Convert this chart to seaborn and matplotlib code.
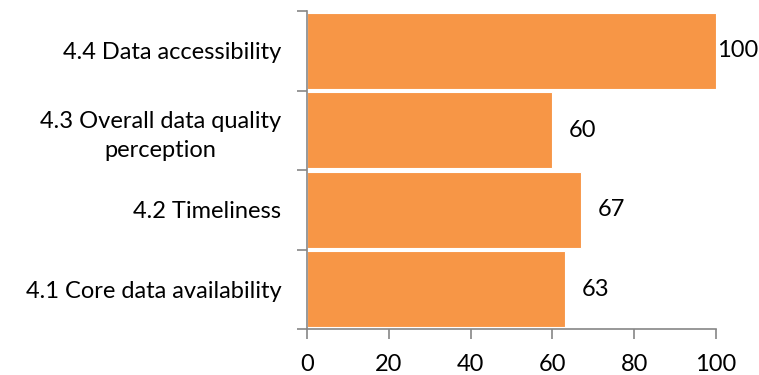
import matplotlib
matplotlib.use("Agg")
import matplotlib.pyplot as plt
import seaborn as sns
import pandas as pd

categories = ["4.4 Data accessibility", "4.3 Overall data quality\nperception",
              "4.2 Timeliness", "4.1 Core data availability"]
values = [100, 60, 67, 63]
label_offsets = [1, 12, 12, 12]  # points, style only
x_ticks = [0, 20, 40, 60, 80, 100]

sns.set_theme(style="white")
plt.rcParams['font.family'] = ['Lato', 'DejaVu Sans']
FS = 17

df = pd.DataFrame({"cat": categories, "val": values})
fig = plt.figure(figsize=(7.59, 3.75), dpi=100)
top_px, bot_px, left_px, right_px = 11, 329, 307, 716
ax = fig.add_axes([left_px / 759, 1 - bot_px / 375,
                   (right_px - left_px) / 759, (bot_px - top_px) / 375])
sns.barplot(data=df, y="cat", x="val", orient="h", color="#F79646",
            saturation=1, width=0.95, ax=ax, edgecolor="white", linewidth=0.8)

ax.set_xlim(0, 100)
ax.set_ylim(len(categories) - 0.5, -0.5)
ax.set_xticks(x_ticks)
ax.set_xlabel("")
ax.set_ylabel("")
for s in ["top", "right"]:
    ax.spines[s].set_visible(False)
for s in ["left", "bottom"]:
    ax.spines[s].set_color("#868686")
    ax.spines[s].set_linewidth(1.2)

ax.tick_params(axis="x", which="major", direction="out", length=7, width=1.2,
               color="#868686", labelsize=FS, labelcolor="black", pad=11, bottom=True)
ax.tick_params(axis="y", which="major", length=0, labelsize=FS, labelcolor="black", pad=18.5)
for lbl in ax.get_yticklabels():
    lbl.set_horizontalalignment("right")
    lbl.set_multialignment("center")
    lbl.set_linespacing(1.45)
ax.set_yticks([-0.5 + i for i in range(len(categories) + 1)], minor=True)
ax.tick_params(axis="y", which="minor", direction="out", length=7, width=1.2,
               color="#868686", left=True)

for i, (v, off) in enumerate(zip(values, label_offsets)):
    ax.annotate(f"{v}", xy=(v, i), xytext=(off, 0), textcoords="offset points",
                ha="left", va="center", fontsize=FS, color="black", annotation_clip=False)

fig.savefig("out.png", dpi=100)
